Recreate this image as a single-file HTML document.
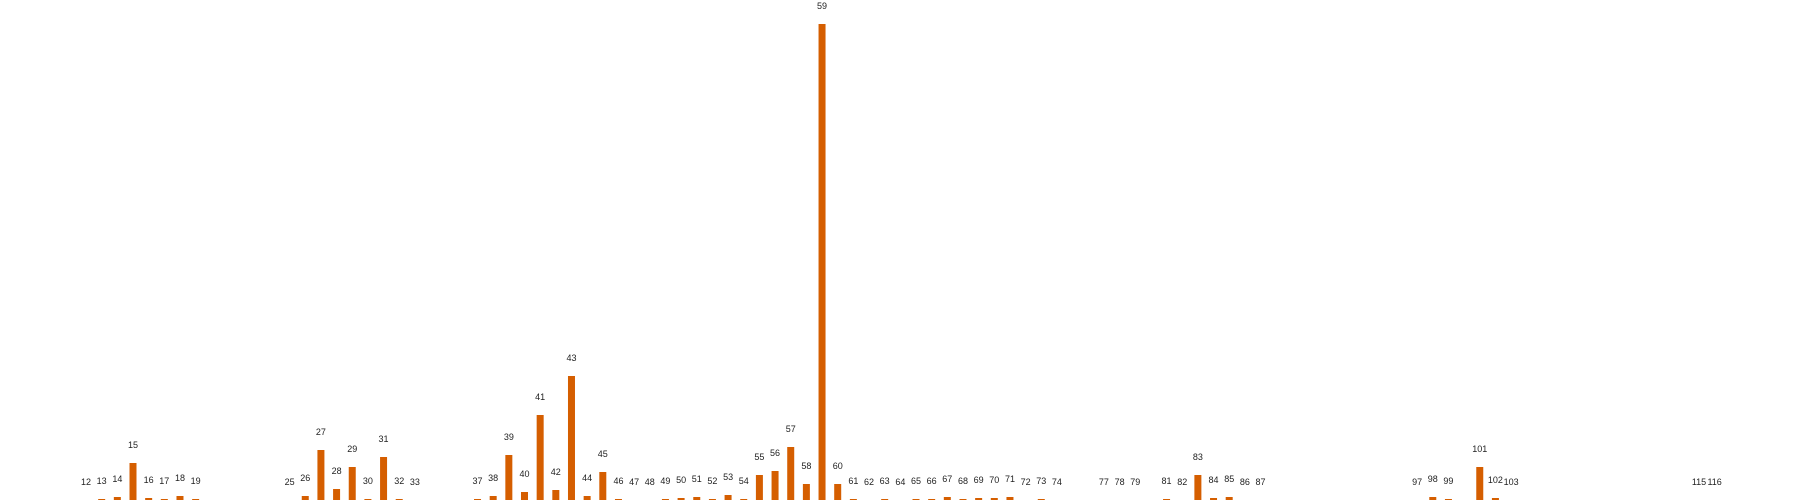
<!DOCTYPE html>
<html><head><meta charset="utf-8"><style>
html,body{margin:0;padding:0;background:#fff;width:1800px;height:500px;overflow:hidden}
svg text{font-family:"Liberation Sans","DejaVu Sans",sans-serif;font-size:9px;fill:#222}
</style></head><body>
<svg id="chart" width="1800" height="500" xmlns="http://www.w3.org/2000/svg"></svg>
<script>
const categories=[12,13,14,15,16,17,18,19,25,26,27,28,29,30,31,32,33,37,38,39,40,41,42,43,44,45,46,47,48,49,50,51,52,53,54,55,56,57,58,59,60,61,62,63,64,65,66,67,68,69,70,71,72,73,74,77,78,79,81,82,83,84,85,86,87,97,98,99,101,102,103,115,116];
const values=[0,1,3,37,2,1,4,1,0,4,50,11,33,1,43,1,0,1,4,45,8,85,10,124,4,28,1,0,0,1,2,3,1,5,1,25,29,53,16,476,16,1,0,1,0,1,1,3,1,2,2,3,0,1,0,0,0,0,1,0,25,2,3,0,0,0,3,1,33,2,0,0,0];
const svg=document.getElementById('chart');
const NS='http://www.w3.org/2000/svg';
const xScale=c=>-101.9+15.66*c;
const yScale=v=>500-v;
const barW=7;
categories.forEach((c,i)=>{
  const v=values[i];
  const x=xScale(c);
  const r=document.createElementNS(NS,'rect');
  r.setAttribute('x',x-barW/2);
  r.setAttribute('y',yScale(v));
  r.setAttribute('width',barW);
  r.setAttribute('height',500-yScale(v));
  r.setAttribute('fill','#d55e00');
  
  
  svg.appendChild(r);
  const t=document.createElementNS(NS,'text');
  t.setAttribute('x',x);
  t.setAttribute('y',yScale(v)-15);
  t.setAttribute('text-anchor','middle');
  t.textContent=c;
  
  
  svg.appendChild(t);
});
</script>
</body></html>
